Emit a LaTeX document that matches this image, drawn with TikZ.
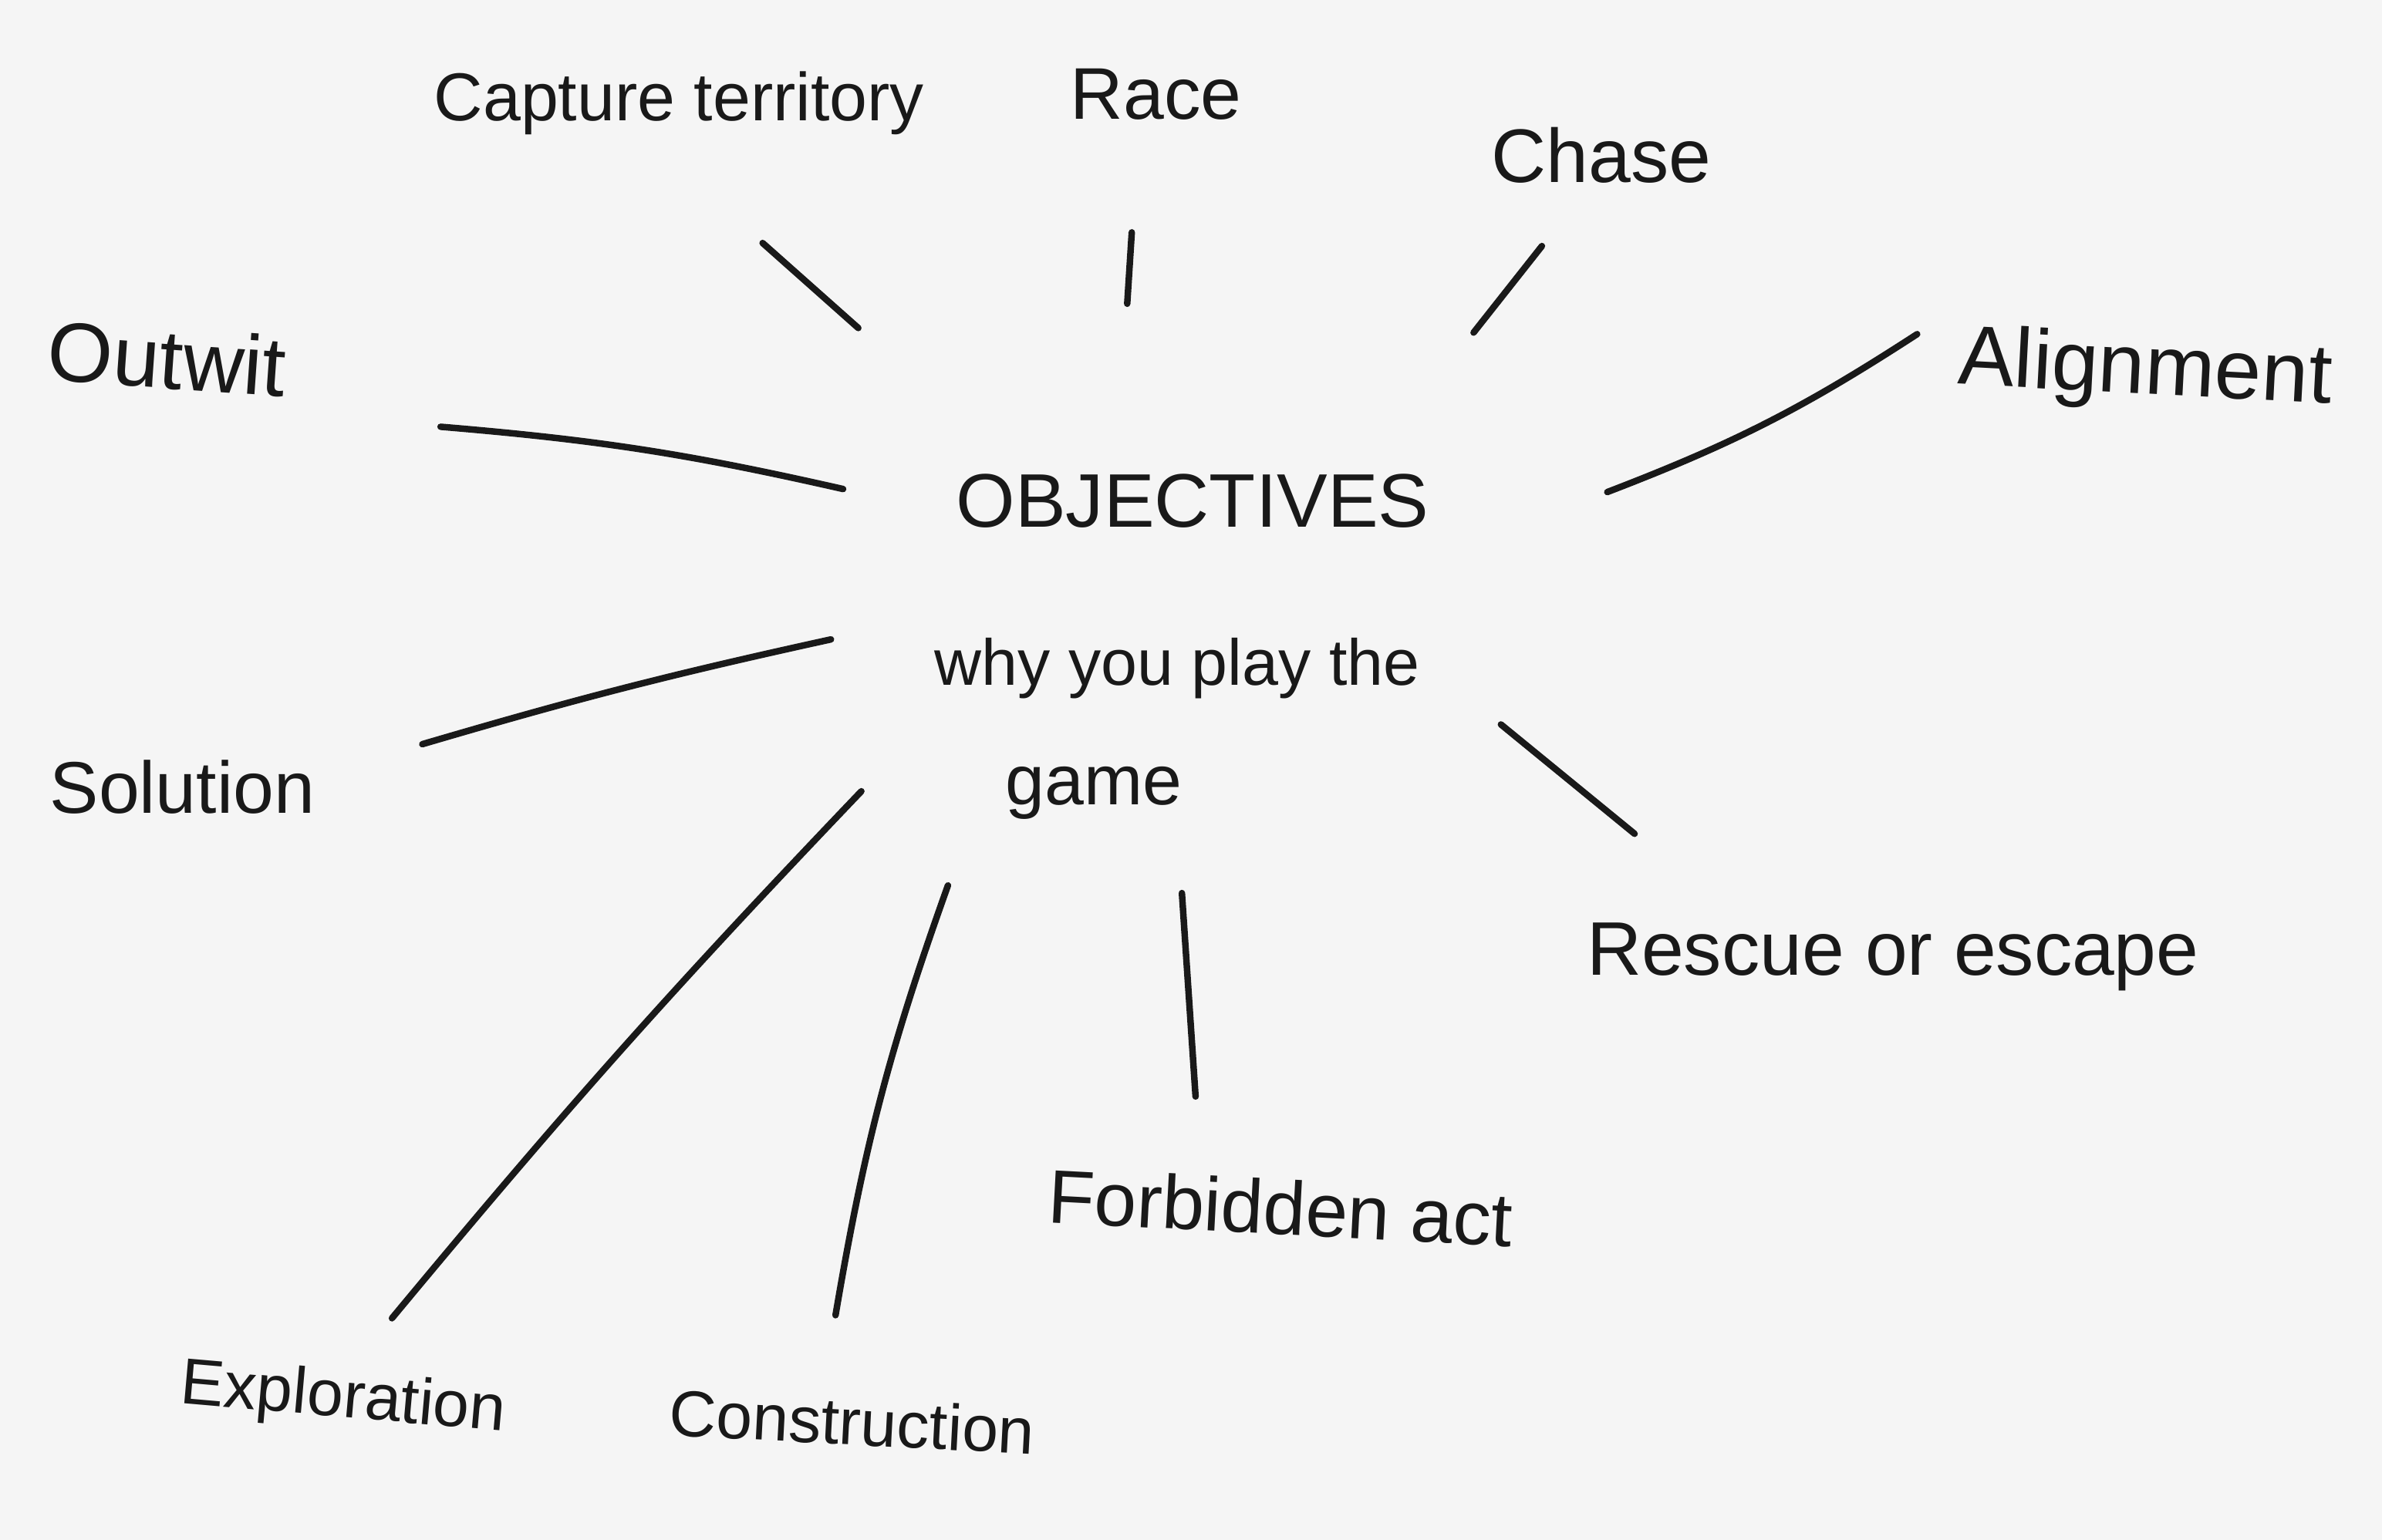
\documentclass[tikz,border=0pt]{standalone}
\usepackage{fontspec}
\setmainfont{Liberation Sans}
\begin{document}
\begin{tikzpicture}[x={(0.01969cm,0)},y={(0,-0.01969cm)},
  lbl/.style={inner sep=0pt,text=black!90,font=\fontsize{27pt}{32pt}\selectfont},
  spoke/.style={line width=2.4pt,black!90,line cap=round}]
\fill[black!4] (0,0) rectangle (1568,1014);
\useasboundingbox (0,0) rectangle (1568,1014);
% centre
\node[lbl,font=\fontsize{28pt}{34pt}\selectfont] (obj) at (785,330) {OBJECTIVES};
\node[lbl,font=\fontsize{24pt}{30pt}\selectfont] (why) at (775,440) {why you play the};
\node[lbl,font=\fontsize{26pt}{30pt}\selectfont] (game) at (720,522) {game};
% outer labels
\node[lbl,font=\fontsize{25pt}{30pt}\selectfont] (cap) at (447,68) {Capture territory};
\node[lbl] (race) at (761,62) {Race};
\node[lbl,font=\fontsize{28pt}{32pt}\selectfont] (chase) at (1054,102) {Chase};
\node[lbl,font=\fontsize{31pt}{36pt}\selectfont,rotate=-3] (align) at (1412,245) {Alignment};
\node[lbl,font=\fontsize{31pt}{36pt}\selectfont,rotate=-4] (outwit) at (110,236) {Outwit};
\node[lbl] (sol) at (120,518) {Solution};
\node[lbl,font=\fontsize{28pt}{32pt}\selectfont] (resc) at (1246,630) {Rescue or escape};
\node[lbl,font=\fontsize{28pt}{32pt}\selectfont,rotate=-3] (forb) at (843,795) {Forbidden act};
\node[lbl,font=\fontsize{24pt}{30pt}\selectfont,rotate=-5] (expl) at (226,922) {Exploration};
\node[lbl,font=\fontsize{24pt}{30pt}\selectfont,rotate=-3] (cons) at (561,936) {Construction};
% spoke end points
\coordinate (capA) at (502,160); \coordinate (capB) at (565,216);
\coordinate (raceA) at (745,153); \coordinate (raceB) at (742,200);
\coordinate (chaseA) at (1015,162); \coordinate (chaseB) at (970,219);
\coordinate (alA) at (1262,220); \coordinate (alB) at (1058,324);
\coordinate (owA) at (290,281); \coordinate (owB) at (555,322);
\coordinate (solA) at (278,490); \coordinate (solB) at (547,421);
\coordinate (exA) at (258,868); \coordinate (exB) at (567,521);
\coordinate (coA) at (550,866); \coordinate (coB) at (624,583);
\coordinate (foA) at (787,722); \coordinate (foB) at (778,588);
\coordinate (reA) at (1076,549); \coordinate (reB) at (988,477);
% spokes
\draw[spoke] (capA) -- (capB);
\draw[spoke] (raceA) -- (raceB);
\draw[spoke] (chaseA) -- (chaseB);
\draw[spoke] (alA) to[bend left=6] (alB);
\draw[spoke] (owA) to[bend left=4] (owB);
\draw[spoke] (solA) to[bend left=2] (solB);
\draw[spoke] (exA) to[bend left=2] (exB);
\draw[spoke] (coA) to[bend left=5] (coB);
\draw[spoke] (foA) -- (foB);
\draw[spoke] (reA) -- (reB);
\end{tikzpicture}
\end{document}
